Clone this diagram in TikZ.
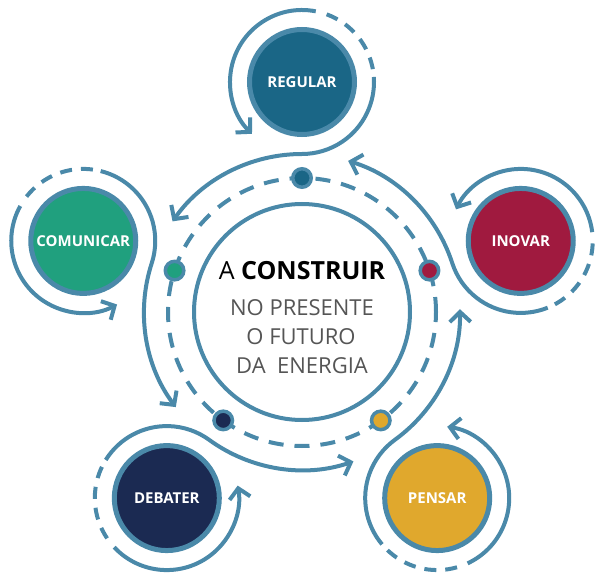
\documentclass[tikz,border=0pt]{standalone}
\usepackage{fontspec}
\setmainfont{Open Sans}
\usetikzlibrary{arrows.meta,calc}
\definecolor{ring}{HTML}{4A89A9}
\definecolor{cReg}{HTML}{1A6686}
\definecolor{cIno}{HTML}{A01A3F}
\definecolor{cCom}{HTML}{20A07E}
\definecolor{cPen}{HTML}{E0A82D}
\definecolor{cDeb}{HTML}{1B2A52}
\definecolor{txtgray}{HTML}{555555}
\pgfdeclarelayer{background}
\pgfsetlayers{background,main}
\begin{document}
\begin{tikzpicture}[x=1pt,y=1pt,
  flow/.style={draw=ring, line width=4pt},
  flowdash/.style={draw=ring, line width=4pt, dash pattern=on 12pt off 9pt},
  innerdash/.style={draw=ring, line width=4pt, dash pattern=on 15pt off 11pt},
  tip/.style={-{Straight Barb[length=10pt,width=21pt]}},
  bignode/.style={circle, draw=ring, line width=5pt, minimum size=105pt, inner sep=0pt, text=white, font=\fontsize{15}{18}\selectfont\bfseries},
  dot/.style={circle, draw=ring, line width=3.5pt, minimum size=18.5pt, inner sep=0pt},
  corecircle/.style={circle, draw=ring, line width=4pt, minimum size=216pt, inner sep=0pt},
  titletext/.style={anchor=base, text=black, font=\fontsize{25}{30}\selectfont},
  subtext/.style={anchor=base, text=txtgray, font=\fontsize{22}{26}\selectfont},
]
\useasboundingbox (0,0) rectangle (603,582);
\coordinate (C) at (302,270);
\node[corecircle] (core) at (C) {};
\begin{pgfonlayer}{background}
  \draw[innerdash] (C) circle[radius=134pt];
\end{pgfonlayer}
\foreach \a/\n/\c/\t in {90/regular/cReg/REGULAR, 18/inovar/cIno/INOVAR, -54/pensar/cPen/PENSAR, -126/debater/cDeb/DEBATER, 162/comunicar/cCom/COMUNICAR} {
  \node[bignode, fill=\c] (\n) at ($(C)+(\a:230pt)$) {\t};
  \node[dot, fill=\c] (\n dot) at ($(C)+(\a:134pt)$) {};
  \begin{pgfonlayer}{background}
    \draw[flow, tip] ($(\n.center)+(\a-11:72pt)$) arc[start angle=\a-11, end angle=\a+136, radius=72pt];
    \draw[flowdash] ($(\n.center)+(\a-20:72pt)$) arc[start angle=\a-20, end angle=\a-82, radius=72pt];
    \draw[flow, tip] ($(\n.center)+(\a-86:72pt)$) arc[start angle=\a-86, end angle=\a-180, radius=72pt]
      arc[start angle=\a, end angle=\a+55, radius=158pt];
  \end{pgfonlayer}
}
\node[titletext] (t1) at (302,302) {A \textbf{CONSTRUIR}};
\node[subtext] (t2) at (302,266) {NO PRESENTE};
\node[subtext] (t3) at (301,237) {O FUTURO};
\node[subtext] (t4) at (302,208) {DA~~ENERGIA};
\end{tikzpicture}
\end{document}
